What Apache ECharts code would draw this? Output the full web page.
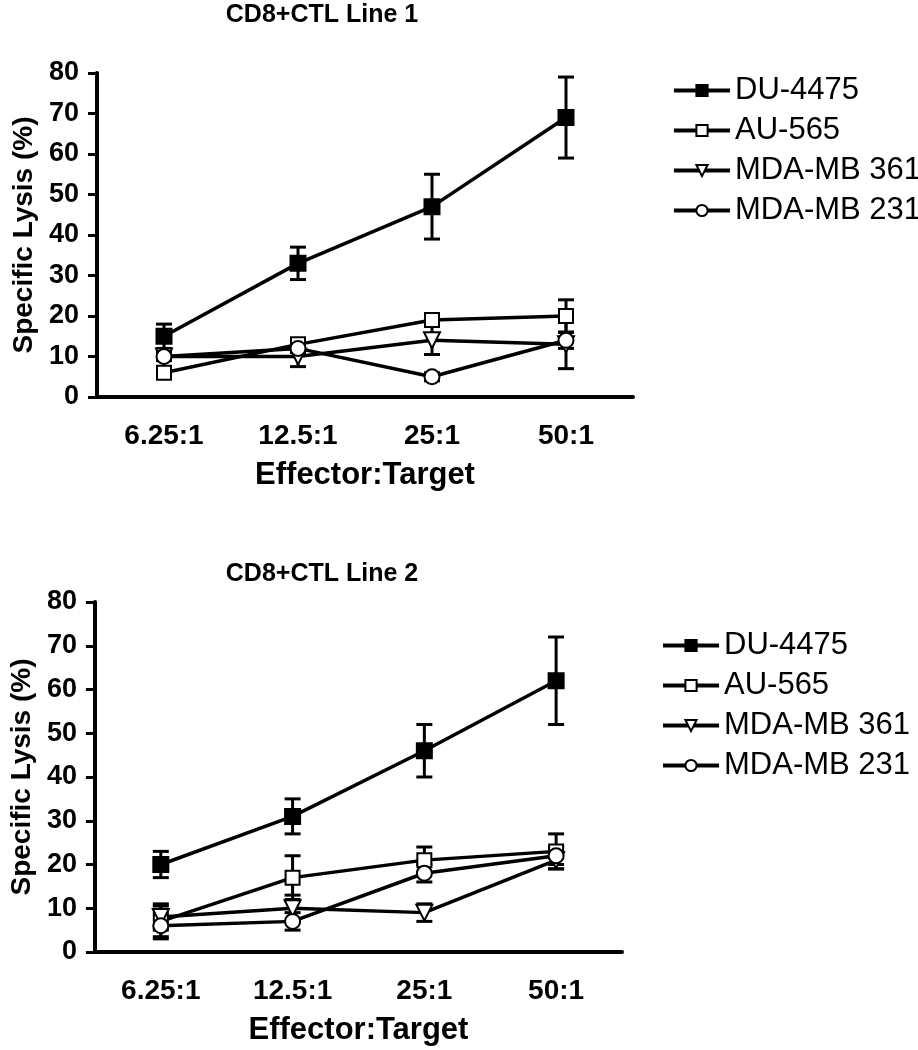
<!DOCTYPE html>
<html>
<head>
<meta charset="utf-8">
<script src="https://cdn.jsdelivr.net/npm/echarts@6/dist/echarts.min.js"></script>
<style>
  html, body { margin: 0; padding: 0; background: #fff; }
  #main { width: 918px; height: 1050px; }
</style>
</head>
<body>
<div id="main"></div>
<script>
// categories and series names
var categories = ["6.25:1", "12.5:1", "25:1", "50:1"];
var names = ["DU-4475", "AU-565", "MDA-MB 361", "MDA-MB 231"];

// CD8+CTL Line 1 (mean, error)
var du1 = [15, 33, 47, 69];
var du1Err = [3, 4, 8, 10];
var au1 = [6, 13, 19, 20];
var au1Err = [1, 1, 1, 4];
var mb361_1 = [10, 10, 14, 13];
var mb361_1Err = [1, 2.5, 3.5, 6];
var mb231_1 = [10, 12, 5, 14];
var mb231_1Err = [1, 1, 1, 2];

// CD8+CTL Line 2 (mean, error)
var du2 = [20, 31, 46, 62];
var du2Err = [3, 4, 6, 10];
var au2 = [7, 17, 21, 23];
var au2Err = [3.5, 5, 3, 4];
var mb361_2 = [8, 10, 9, 21];
var mb361_2Err = [3, 3, 2, 2];
var mb231_2 = [6, 7, 18, 22];
var mb231_2Err = [3, 2, 2, 2];

var FONT = "Liberation Sans";

var myChart = echarts.init(document.getElementById("main"));

// symbol style per series name
var symbols = {
  "DU-4475": { symbol: "rect", rotate: 0, size: 14 },
  "AU-565": { symbol: "emptyRect", rotate: 0, size: 14 },
  "MDA-MB 361": { symbol: "emptyTriangle", rotate: 180, size: 16 },
  "MDA-MB 231": { symbol: "emptyCircle", rotate: 0, size: 15 }
};

function lineSeries(name, values, idx) {
  var s = symbols[name];
  return {
    name: name,
    type: "line",
    xAxisIndex: idx,
    yAxisIndex: idx,
    data: values,
    symbol: s.symbol,
    symbolRotate: s.rotate,
    symbolSize: s.size,
    showAllSymbol: true,
    z: 3,
    lineStyle: { color: "#000", width: 3.5 },
    itemStyle: { color: "#000", borderColor: "#000", borderWidth: 3 },
    emphasis: { disabled: true },
    animation: false
  };
}

function errorSeries(values, errs, idx) {
  var data = values.map(function (v, i) {
    return [i, v - errs[i], v + errs[i]];
  });
  return {
    type: "custom",
    xAxisIndex: idx,
    yAxisIndex: idx,
    data: data,
    z: 2,
    silent: true,
    animation: false,
    encode: { x: 0, y: [1, 2] },
    renderItem: function (params, api) {
      var x = api.value(0);
      var lo = api.coord([x, api.value(1)]);
      var hi = api.coord([x, api.value(2)]);
      var hw = 8;
      var st = { stroke: "#000", lineWidth: 3 };
      return {
        type: "group",
        children: [
          { type: "line", shape: { x1: lo[0], y1: lo[1], x2: hi[0], y2: hi[1] }, style: st },
          { type: "line", shape: { x1: lo[0] - hw, y1: lo[1], x2: lo[0] + hw, y2: lo[1] }, style: st },
          { type: "line", shape: { x1: hi[0] - hw, y1: hi[1], x2: hi[0] + hw, y2: hi[1] }, style: st }
        ]
      };
    }
  };
}

function xAxis(idx) {
  return {
    type: "category",
    gridIndex: idx,
    data: categories,
    boundaryGap: true,
    name: "Effector:Target",
    nameLocation: "middle",
    nameGap: 63,
    nameTextStyle: { fontFamily: FONT, fontWeight: "bold", fontSize: 31, color: "#000" },
    axisLine: { lineStyle: { color: "#000", width: 4 } },
    axisTick: { alignWithLabel: true, length: 9, lineStyle: { color: "#000", width: 3 } },
    axisLabel: { fontFamily: FONT, fontWeight: "bold", fontSize: 28, color: "#000", margin: 25 },
    splitLine: { show: false }
  };
}

function yAxis(idx) {
  return {
    type: "value",
    gridIndex: idx,
    min: 0,
    max: 80,
    interval: 10,
    name: "Specific Lysis (%)",
    nameLocation: "middle",
    nameGap: 58,
    nameTextStyle: { fontFamily: FONT, fontWeight: "bold", fontSize: 28, color: "#000" },
    axisLine: { show: true, lineStyle: { color: "#000", width: 4 } },
    axisTick: { show: true, length: 9, lineStyle: { color: "#000", width: 3 } },
    axisLabel: { fontFamily: FONT, fontWeight: "bold", fontSize: 27, color: "#000", margin: 18 },
    splitLine: { show: false }
  };
}

function legend(top, left) {
  return {
    data: names,
    orient: "vertical",
    left: left,
    top: top,
    itemWidth: 56,
    itemHeight: 14,
    itemGap: 9,
    selectedMode: false,
    lineStyle: { width: 4 },
    textStyle: { fontFamily: FONT, fontSize: 31, color: "#000", padding: [0, 0, 0, 0] }
  };
}

var Option = {
  backgroundColor: "#fff",
  animation: false,
  title: [
    {
      text: "CD8+CTL Line 1",
      left: 317,
      top: -2,
      textAlign: "center",
      textStyle: { fontFamily: FONT, fontWeight: "bold", fontSize: 25, color: "#000" }
    },
    {
      text: "CD8+CTL Line 2",
      left: 317,
      top: 557,
      textAlign: "center",
      textStyle: { fontFamily: FONT, fontWeight: "bold", fontSize: 25, color: "#000" }
    }
  ],
  legend: [legend(70, 667), legend(625, 656)],
  grid: [
    { left: 97, top: 73, width: 536, height: 324 },
    { left: 94, top: 602, width: 528, height: 350 }
  ],
  xAxis: [xAxis(0), xAxis(1)],
  yAxis: [yAxis(0), yAxis(1)],
  series: [
    errorSeries(du1, du1Err, 0),
    errorSeries(au1, au1Err, 0),
    errorSeries(mb361_1, mb361_1Err, 0),
    errorSeries(mb231_1, mb231_1Err, 0),
    lineSeries("DU-4475", du1, 0),
    lineSeries("AU-565", au1, 0),
    lineSeries("MDA-MB 361", mb361_1, 0),
    lineSeries("MDA-MB 231", mb231_1, 0),
    errorSeries(du2, du2Err, 1),
    errorSeries(au2, au2Err, 1),
    errorSeries(mb361_2, mb361_2Err, 1),
    errorSeries(mb231_2, mb231_2Err, 1),
    lineSeries("DU-4475", du2, 1),
    lineSeries("AU-565", au2, 1),
    lineSeries("MDA-MB 361", mb361_2, 1),
    lineSeries("MDA-MB 231", mb231_2, 1)
  ]
};

myChart.setOption(Option);
</script>
</body>
</html>
